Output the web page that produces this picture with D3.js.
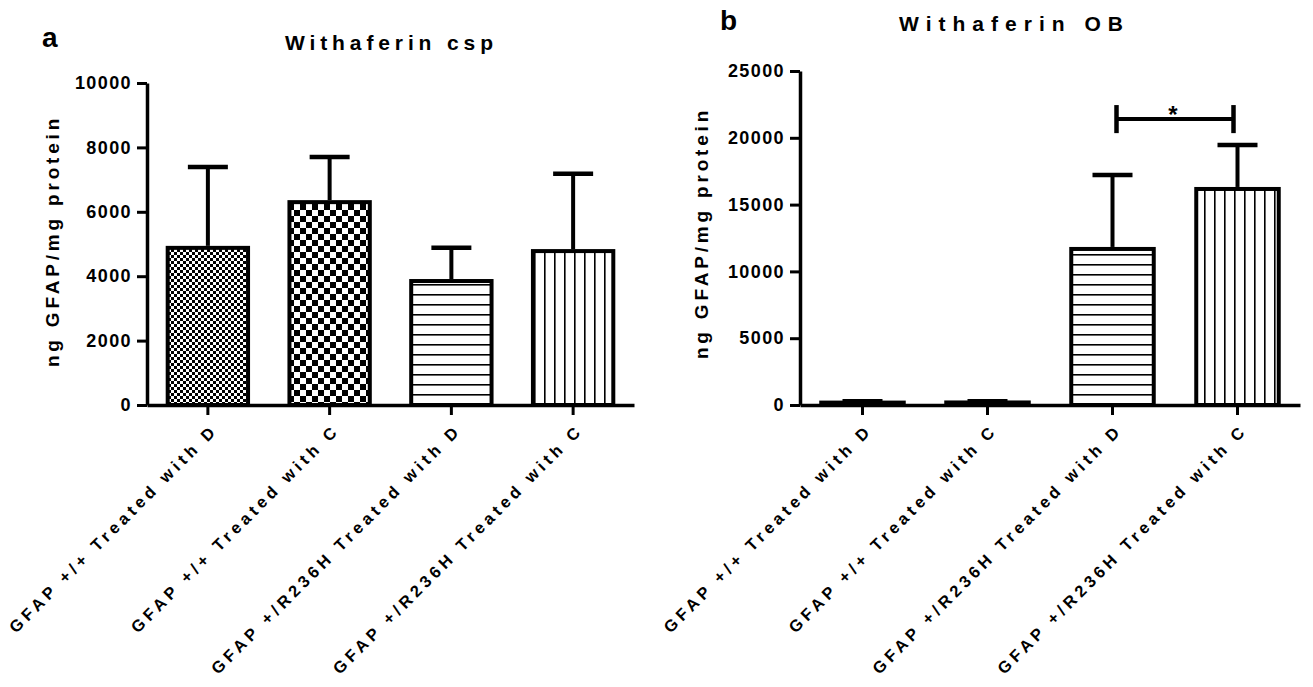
<!DOCTYPE html>
<html>
<head>
<meta charset="utf-8">
<script src="https://cdn.jsdelivr.net/npm/d3@7"></script>
<style>
  body { margin: 0; background: #fff; }
  svg { display: block; }
  text { font-family: "Liberation Sans", Arial, sans-serif; font-weight: bold; fill: #000; }
</style>
</head>
<body>
<svg id="chart" width="1313" height="687"></svg>
<script>
// groups on the x axis (same for both panels)
const groups = ["GFAP +/+ Treated with D", "GFAP +/+ Treated with C",
                "GFAP +/R236H Treated with D", "GFAP +/R236H Treated with C"];

// panel a: Withaferin csp (mean and SD)
const cspMean = [4880, 6300, 3850, 4780];
const cspSD   = [2510, 1400, 1030, 2400];
const cspTicks = [0, 2000, 4000, 6000, 8000, 10000];

// panel b: Withaferin OB
const obMean = [180, 190, 11680, 16170];
const obSD   = [100, 100, 5540, 3290];
const obTicks = [0, 5000, 10000, 15000, 20000, 25000];

// fill pattern per group
const fills = ["fineCheck", "coarseCheck", "hLines", "vLines"];

const svg = d3.select("#chart");

// ---- patterns ----
const defs = svg.append("defs");
const p1 = defs.append("pattern").attr("id", "fineCheck")
  .attr("patternUnits", "userSpaceOnUse").attr("width", 6).attr("height", 6);
p1.append("rect").attr("width", 6).attr("height", 6).attr("fill", "#fff");
p1.append("rect").attr("width", 3).attr("height", 3).attr("fill", "#000");
p1.append("rect").attr("x", 3).attr("y", 3).attr("width", 3).attr("height", 3).attr("fill", "#000");

const p2 = defs.append("pattern").attr("id", "coarseCheck")
  .attr("patternUnits", "userSpaceOnUse").attr("width", 12).attr("height", 12);
p2.append("rect").attr("width", 12).attr("height", 12).attr("fill", "#fff");
p2.append("rect").attr("width", 6).attr("height", 6).attr("fill", "#000");
p2.append("rect").attr("x", 6).attr("y", 6).attr("width", 6).attr("height", 6).attr("fill", "#000");

const p3 = defs.append("pattern").attr("id", "hLines")
  .attr("patternUnits", "userSpaceOnUse").attr("width", 10).attr("height", 10);
p3.append("rect").attr("width", 10).attr("height", 10).attr("fill", "#fff");
p3.append("rect").attr("y", 4).attr("width", 10).attr("height", 1.6).attr("fill", "#000");

const p4 = defs.append("pattern").attr("id", "vLines")
  .attr("patternUnits", "userSpaceOnUse").attr("width", 10).attr("height", 10);
p4.append("rect").attr("width", 10).attr("height", 10).attr("fill", "#fff");
p4.append("rect").attr("x", 4).attr("width", 1.6).attr("height", 10).attr("fill", "#000");

function drawPanel(o) {
  const g = svg.append("g");

  const x = d3.scaleBand().domain(groups).range(o.xRange)
    .paddingInner(0.34).paddingOuter(0.17);
  const y = d3.scaleLinear().domain([0, d3.max(o.ticks)]).range(o.yRange);
  const bw = x.bandwidth();

  // bars
  g.selectAll(".bar").data(o.mean).join("rect")
    .attr("x", (d, i) => x(groups[i]))
    .attr("y", d => y(d))
    .attr("width", bw)
    .attr("height", d => y(0) - y(d))
    .attr("fill", (d, i) => `url(#${fills[i]})`)
    .attr("stroke", "#000").attr("stroke-width", 4);

  // error bars (upper only)
  const cx = i => x(groups[i]) + bw / 2;
  g.selectAll(".err").data(o.mean).join("line")
    .attr("x1", (d, i) => cx(i)).attr("x2", (d, i) => cx(i))
    .attr("y1", d => y(d) - 2).attr("y2", (d, i) => y(d + o.sd[i]))
    .attr("stroke", "#000").attr("stroke-width", 4);
  g.selectAll(".cap").data(o.mean).join("line")
    .attr("x1", (d, i) => cx(i) - 20).attr("x2", (d, i) => cx(i) + 20)
    .attr("y1", (d, i) => y(d + o.sd[i])).attr("y2", (d, i) => y(d + o.sd[i]))
    .attr("stroke", "#000").attr("stroke-width", 4.5);

  // y axis
  const ya = g.append("g").attr("transform", `translate(${o.xRange[0]},0)`)
    .call(d3.axisLeft(y).tickValues(o.ticks).tickSize(10).tickSizeOuter(0).tickPadding(5).tickFormat(d3.format("d")));
  ya.select(".domain").attr("stroke-width", 3.5);
  ya.selectAll(".tick line").attr("stroke-width", 3);
  ya.selectAll(".tick text").attr("font-size", 18).attr("letter-spacing", 1.4)
    .attr("font-family", null).attr("fill", "#000");

  // x axis
  const xa = g.append("g").attr("transform", `translate(0,${o.yRange[0]})`)
    .call(d3.axisBottom(x).tickSize(10).tickSizeOuter(0).tickFormat(""));
  xa.select(".domain").attr("stroke-width", 3.5);
  xa.selectAll(".tick line").attr("stroke-width", 3);

  // rotated group labels
  g.selectAll(".xlab").data(groups).join("text")
    .attr("transform", d => `translate(${x(d) + bw / 2 + 11},${o.yRange[0] + 26}) rotate(-45)`)
    .attr("text-anchor", "end")
    .attr("font-size", 16.5).attr("letter-spacing", 4.2)
    .text(d => d);

  // y label
  g.append("text")
    .attr("transform", `translate(${o.yLabelX},${o.yLabelY}) rotate(-90)`)
    .attr("text-anchor", "middle").attr("font-size", 19).attr("letter-spacing", 3.8)
    .text("ng GFAP/mg protein");

  // title and panel letter
  g.append("text").attr("x", o.titleX).attr("y", o.titleY)
    .attr("text-anchor", "middle").attr("font-size", 21)
    .attr("textLength", o.titleLen).attr("lengthAdjust", "spacing")
    .text(o.title);
  g.append("text").attr("x", o.letterX).attr("y", o.letterY)
    .attr("font-size", 28).text(o.letter);

  // significance bracket
  if (o.bracket) {
    const b = o.bracket;
    const xa1 = cx(b.from) + 4, xa2 = cx(b.to) - 4;
    g.append("line").attr("x1", xa1).attr("x2", xa2)
      .attr("y1", y(b.at)).attr("y2", y(b.at)).attr("stroke", "#000").attr("stroke-width", 4);
    [xa1, xa2].forEach(xx => g.append("line").attr("x1", xx).attr("x2", xx)
      .attr("y1", y(b.at + b.tick)).attr("y2", y(b.at - b.tick))
      .attr("stroke", "#000").attr("stroke-width", 4.5));
    g.append("text").attr("x", (xa1 + xa2) / 2 - 2).attr("y", y(b.at) + 4)
      .attr("text-anchor", "middle").attr("font-size", 24).text(b.label);
  }
}

drawPanel({
  xRange: [147, 634], yRange: [405, 83], ticks: cspTicks,
  mean: cspMean, sd: cspSD, title: "Withaferin csp", titleX: 389, titleY: 50, titleLen: 208,
  letter: "a", letterX: 42, letterY: 47, yLabelX: 59, yLabelY: 241
});

drawPanel({
  xRange: [800, 1300], yRange: [405, 71], ticks: obTicks,
  mean: obMean, sd: obSD, title: "Withaferin OB", titleX: 1011, titleY: 31, titleLen: 224,
  letter: "b", letterX: 720, letterY: 30, yLabelX: 708, yLabelY: 233,
  bracket: { from: 2, to: 3, at: 21400, tick: 1050, label: "*" }
});
</script>
</body>
</html>
